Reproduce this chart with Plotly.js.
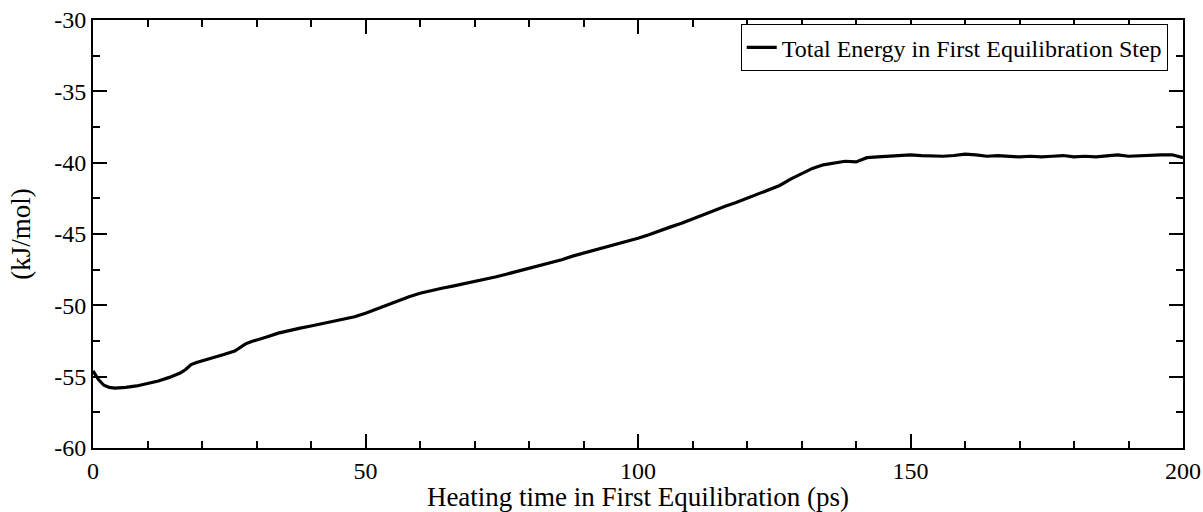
<!DOCTYPE html>
<html>
<head>
<meta charset="utf-8">
<script src="https://cdn.plot.ly/plotly-3.0.1.min.js"></script>
<style>html,body{margin:0;padding:0;background:#fff;}#chart{width:1203px;height:512px;}</style>
</head>
<body>
<div id="chart"></div>
<script>
const timePs = [0,1,2,3,4,5,6,8,10,12,14,16,17,18,19,20,22,24,26,27,28,29,30,32,34,36,38,40,42,44,46,48,50,52,54,56,58,60,62,64,66,68,70,72,74,76,78,80,82,84,86,88,90,92,94,96,98,100,102,104,106,108,110,112,114,116,118,120,122,124,126,128,130,132,134,136,138,140,142,144,146,148,150,152,154,156,158,160,162,164,166,168,170,172,174,176,178,180,182,184,186,188,190,192,194,196,198,200];
const totalEnergy = [-54.6,-55.2,-55.6,-55.75,-55.8,-55.78,-55.75,-55.65,-55.5,-55.3,-55.05,-54.75,-54.5,-54.15,-54.0,-53.9,-53.65,-53.45,-53.2,-52.95,-52.7,-52.55,-52.45,-52.2,-51.95,-51.75,-51.6,-51.45,-51.3,-51.1,-50.95,-50.8,-50.55,-50.25,-49.95,-49.65,-49.4,-49.15,-48.95,-48.8,-48.65,-48.5,-48.35,-48.2,-48.0,-47.8,-47.6,-47.45,-47.25,-47.0,-46.8,-46.55,-46.35,-46.15,-45.95,-45.75,-45.5,-45.3,-45.05,-44.75,-44.5,-44.25,-43.95,-43.6,-43.35,-43.05,-42.8,-42.5,-42.2,-41.95,-41.6,-41.15,-40.8,-40.4,-40.15,-40.05,-39.9,-39.95,-39.65,-39.6,-39.55,-39.5,-39.45,-39.5,-39.55,-39.55,-39.5,-39.4,-39.45,-39.55,-39.5,-39.55,-39.6,-39.55,-39.6,-39.55,-39.5,-39.6,-39.55,-39.6,-39.5,-39.45,-39.55,-39.5,-39.5,-39.45,-39.45,-39.65];
const seriesName = 'Total Energy in First Equilibration Step';
const xTitle = 'Heating time in First Equilibration (ps)';
const yTitle = '(kJ/mol)';
const xTickVals = [0, 50, 100, 150, 200];
const xTickText = ['0', '50', '100', '150', '200'];
const yTickVals = [-60, -55, -50, -45, -40, -35, -30];
const yTickText = ['-60', '-55', '-50', '-45', '-40', '-35', '-30'];

const font = '"Liberation Serif", serif';
const axisCommon = {
  showgrid: false, zeroline: false,
  showline: true, linecolor: '#000', linewidth: 2, mirror: 'ticks',
  ticks: 'inside', ticklen: 14, tickwidth: 2, tickcolor: '#000',
  tickfont: {family: font, size: 24, color: '#000'},
  tickmode: 'array',
  fixedrange: true
};
const layout = {
  width: 1203, height: 512,
  margin: {l: 93, r: 20, t: 20, b: 64},
  paper_bgcolor: '#fff', plot_bgcolor: '#fff',
  showlegend: true,
  legend: {x: 0.986, xanchor: 'right', y: 0.99, yanchor: 'top',
    bordercolor: '#000', borderwidth: 1, bgcolor: '#fff',
    font: {family: font, size: 24, color: '#000'}},
  xaxis: Object.assign({}, axisCommon, {
    range: [0, 200], tickvals: xTickVals, ticktext: xTickText,
    minor: {tickmode: 'linear', tick0: 0, dtick: 10, ticks: 'inside', ticklen: 7, tickwidth: 2, tickcolor: '#000'},
    title: {text: xTitle, font: {family: font, size: 27, color: '#000'}, standoff: 0}
  }),
  yaxis: Object.assign({}, axisCommon, {
    range: [-60, -30], tickvals: yTickVals, ticktext: yTickText,
    minor: {tickmode: 'linear', tick0: -60, dtick: 2.5, ticks: 'inside', ticklen: 7, tickwidth: 2, tickcolor: '#000'},
    title: {text: yTitle, font: {family: font, size: 27, color: '#000'}, standoff: 16}
  })
};
Plotly.newPlot('chart', [{
  x: timePs, y: totalEnergy, type: 'scatter', mode: 'lines',
  name: seriesName, line: {color: '#000', width: 3.2}
}], layout, {staticPlot: true});
</script>
</body>
</html>
